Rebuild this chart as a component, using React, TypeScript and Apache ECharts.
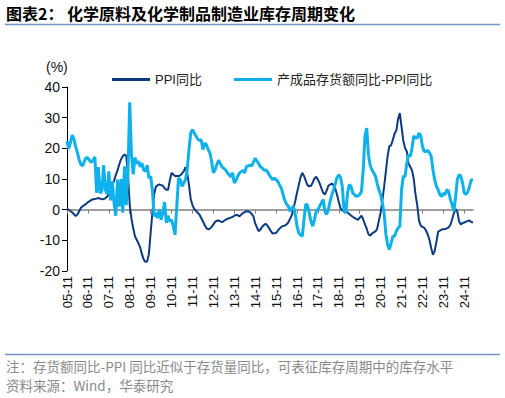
import React, { useEffect, useRef } from "react";
import * as echarts from "echarts";

const START_YEAR = 2005;
const START_MONTH = 11;
const N = 234;
const categories: string[] = [];
for (let k = 0; k < N; k++) {
  const m0 = START_MONTH - 1 + k;
  const y = START_YEAR + Math.floor(m0 / 12);
  const m = (m0 % 12) + 1;
  categories.push(String(y % 100).padStart(2, "0") + "-" + String(m).padStart(2, "0"));
}

const yTicks = [-20, -10, 0, 10, 20, 30, 40];

const ppiYoY = [
  0.2, 0, -0.5, -0.9, -1.5, -2.1, -1.6, -0.5, 0.6, 1.1, 1.5, 1.9,
  2.4, 2.8, 3.2, 3.4, 3.5, 3.6, 3.8, 3.6, 3.4, 3.5, 3.7, 4.2,
  5, 6.3, 8, 9.4, 11.3, 12.8, 14.8, 16.4, 17.4, 18, 17.6, 11.5,
  1.5, -3, -6, -8.7, -9.8, -11, -12.3, -14.5, -16.2, -17, -16.9, -14.5,
  -7.6, -1, 5, 7.5, 8, 8.2, 8, 7.8, 7, 6.5, 6.5, 9.5,
  12, 11.5, 11, 11, 11, 11.2, 11.8, 12.5, 13.9, 12, 8, 3.5,
  1.5, 0.3, -0.4, -1, -1.6, -2.7, -3.8, -5, -6, -6.4, -6.2, -5.6,
  -4.8, -4, -3.6, -3.5, -3.8, -4.1, -3.7, -3.3, -3, -2.8, -2.6, -2.4,
  -2, -1.7, -1.8, -2.2, -1.6, -1.1, -0.8, -0.5, -0.6, -0.8, -1.4, -2.2,
  -4.5, -5.8, -7, -6.5, -5.6, -5, -4.6, -5.2, -6, -7, -7.8, -7.7,
  -7.6, -6.8, -6.2, -5.6, -5.3, -5.2, -4.8, -4.2, -3, -1.8, 0.5, 2.8,
  5.5, 8, 10.5, 12, 11, 9.5, 8, 7.6, 7.8, 8.8, 10.2, 10.7,
  9.8, 8.6, 7, 5.5, 4.9, 6.2, 7.8, 8.2, 8.5, 8, 6.8, 4.8,
  2.5, 0.4, -0.3, -0.5, -0.7, -0.9, -1.4, -1.9, -2.3, -2.7, -3, -3.3,
  -2.6, -2, -3.2, -4.8, -6.2, -8, -8.5, -7.8, -7.4, -7.1, -6.2, -3.5,
  -1, 3, 7.5, 12.5, 17.5, 20.7, 21, 22.8, 24.8, 25.8, 29.5, 31.5,
  27, 22.5, 20.1, 19, 15, 14, 12.8, 10, 5, 1.5, -3.5, -5.2,
  -5.6, -5.9, -6.8, -8, -9.8, -12.5, -14.7, -13.5, -10.5, -7.2, -6.8, -6.5,
  -6.4, -6.3, -6.1, -5.8, -5, -3.2, -1.2, 0.2, -0.6, -3.8, -4.8, -4.4,
  -4.2, -3.9, -3.7, -3.5, -4, -4.2,
];

const invMinusPpi = [
  22.3, 19.8, 22, 24.3, 23, 20.5, 18.5, 16.3, 14.7, 14.3, 15.8, 17,
  16.8, 16, 15.4, 16.2, 17.2, 5.5, 13.9, 5.4, 6, 14.5, 6.5, 5,
  12.5, 3, 9.2, 2.2, -2, 9.8, 1, 10, -1, 14.1, 1.5, 12,
  35, 18, 11.5, 17, 15, 15.8, 14, 15.2, 13, 12.5, 14.5, 10.3,
  10.9, 6.5, -2.2, -1, -2.7, 0, -3.3, -1, 2.5, -4.3, -2, -3.8,
  -3.3, -5.4, -8.2, 1, 10.3, 9.8, 7.6, 8.7, 9.8, 13, 19.6, 25,
  26.1, 25, 24, 23, 22.6, 22.8, 19.6, 21.7, 21.2, 19.6, 18.5, 15.8,
  12, 13, 14.7, 16.1, 15, 13.9, 13.5, 13, 12, 11.4, 10.7, 12,
  8.7, 9.5, 10.9, 12, 12.4, 12.8, 12, 14.1, 14.3, 14.5, 14.3, 15.5,
  16.8, 15.8, 15, 14, 13.6, 12.8, 13, 12.5, 11.4, 10.5, 9.8, 10.3,
  9.8, 9.2, 8, 7, 5, 3, 1.8, 1.1, -0.5, 0.5, 1.1, -1.5,
  -5.4, -7.6, -8.3, -8.7, -3.3, 1.8, 1.5, -1.1, -3.8, -5.4, -3.3, -0.5,
  0, 1.1, 2.2, 3.3, -0.5, -1.6, 0, 2.7, 4.8, 6.5, 8.5, 10.5,
  11.4, 10.5, 7.5, -0.5, -1.1, 5.4, 8.2, 7.6, 5.4, 4.9, 4.3, 4.6,
  4.9, 6, 13, 24, 26.6, 18, 14.5, 13, 12, 11, 8.5, 6.5,
  4.9, 2, -1.1, -8, -11.4, -13, -10.9, -8.7, -8.7, -7, -6, -5.4,
  6.5, 10.9, 10.8, 15, 17.9, 17.4, 20, 24, 23.4, 23.4, 25, 24,
  20.7, 19, 19, 19.3, 18.5, 17.5, 13, 9.8, 7.6, 6.5, 4.9, 4.3,
  5.4, 4.9, 6.5, 6, 3.3, 1.6, -0.5, 4, 9.8, 11.4, 10.9, 8.7,
  5.4, 5, 5.8, 7.6, 9.8, 9.6,
];

const seriesNames = ["PPI同比", "产成品存货额同比-PPI同比"];
const DARK = "#0b3a7e";
const LIGHT = "#0fb1ec";
const FONT = "Arial, 'Liberation Sans', 'Noto Sans CJK SC', sans-serif";
const CJK = "'Noto Sans CJK SC', sans-serif";

const showLabel = (_i: number, v: string) => v.endsWith("-11");

export default function App() {
  const ref = useRef<HTMLDivElement>(null);
  useEffect(() => {
    if (!ref.current) return;
    const chart = echarts.init(ref.current, null, { renderer: "svg" });
    chart.setOption({
      animation: false,
      backgroundColor: "#ffffff",
      textStyle: { fontFamily: FONT },
      grid: { left: 67, right: 32, top: 87, bottom: 127 },
      legend: {
        left: 107,
        top: 68,
        icon: "rect",
        itemWidth: 38,
        itemHeight: 3,
        itemGap: 32,
        textStyle: { fontSize: 13, color: "#222", fontFamily: FONT },
        data: seriesNames,
      },
      xAxis: [
        {
          type: "category",
          data: categories,
          boundaryGap: false,
          axisLine: { onZero: true, lineStyle: { color: "#808080", width: 1.5 } },
          axisTick: { show: true, interval: showLabel, length: 4, lineStyle: { color: "#808080" } },
          axisLabel: { show: false },
        },
        {
          type: "category",
          data: categories,
          boundaryGap: false,
          position: "bottom",
          axisLine: { show: false, onZero: false },
          axisTick: { show: false },
          axisLabel: {
            interval: showLabel,
            rotate: 90,
            margin: 5,
            fontSize: 13,
            color: "#111",
            fontFamily: FONT,
          },
        },
      ],
      yAxis: {
        type: "value",
        min: yTicks[0],
        max: yTicks[yTicks.length - 1],
        interval: 10,
        axisLine: { show: true, lineStyle: { color: "#000", width: 1 } },
        axisTick: { show: true, length: 5, lineStyle: { color: "#000" } },
        splitLine: { show: false },
        axisLabel: { fontSize: 14, color: "#111", margin: 7, fontFamily: FONT },
      },
      series: [
        {
          name: seriesNames[0],
          type: "line",
          data: ppiYoY,
          showSymbol: false,
          symbol: "none",
          lineStyle: { color: DARK, width: 2 },
          itemStyle: { color: DARK },
        },
        {
          name: seriesNames[1],
          type: "line",
          data: invMinusPpi,
          showSymbol: false,
          symbol: "none",
          lineStyle: { color: LIGHT, width: 3 },
          itemStyle: { color: LIGHT },
        },
      ],
      graphic: [
        {
          type: "text",
          left: 6,
          top: 5,
          style: {
            text: "图表2： 化学原料及化学制品制造业库存周期变化",
            font: `bold 16px ${CJK}`,
            fill: "#000",
          },
        },
        {
          type: "line",
          shape: { x1: 5, y1: 24.5, x2: 500, y2: 24.5 },
          style: { stroke: "#7393c2", lineWidth: 1.5 },
        },
        {
          type: "text",
          left: 46,
          top: 60,
          style: { text: "(%)", font: `14px ${FONT}`, fill: "#111" },
        },
        {
          type: "line",
          shape: { x1: 5, y1: 354.5, x2: 500, y2: 354.5 },
          style: { stroke: "#7393c2", lineWidth: 1.5 },
        },
        {
          type: "text",
          left: 6,
          top: 359,
          style: {
            text: "注：存货额同比-PPI 同比近似于存货量同比，可表征库存周期中的库存水平",
            font: `13.5px ${CJK}`,
            fill: "#8a8a8a",
          },
        },
        {
          type: "text",
          left: 6,
          top: 378,
          style: {
            text: "资料来源：Wind，华泰研究",
            font: `13.5px ${CJK}`,
            fill: "#8a8a8a",
          },
        },
      ],
    });
    return () => chart.dispose();
  }, []);
  return (
    <div
      ref={ref}
      style={{ position: "absolute", left: 0, top: 0, width: 505, height: 398 }}
    />
  );
}
